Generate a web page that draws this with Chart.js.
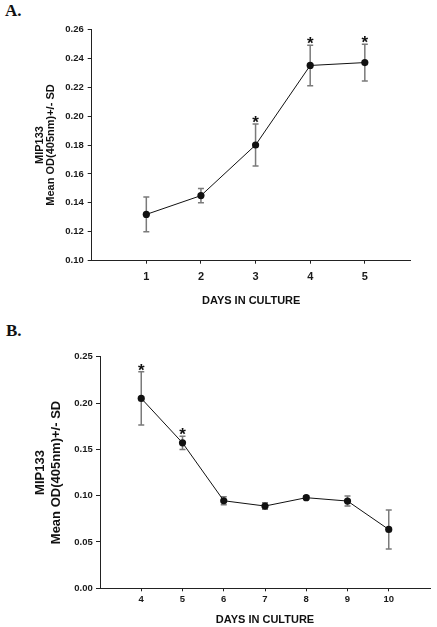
<!DOCTYPE html>
<html>
<head>
<meta charset="utf-8">
<script src="https://cdn.jsdelivr.net/npm/chart.js@4.4.1/dist/chart.umd.min.js"></script>
<style>
  html, body { margin: 0; padding: 0; background: #fff; width: 437px; height: 627px; overflow: hidden; }
  .panel { position: absolute; left: 0; }
  .lbl { position: absolute; font-family: "Liberation Serif", "Times New Roman", serif; font-weight: bold; font-size: 17px; color: #111; }
</style>
</head>
<body>
<div class="lbl" style="left:5px; top:1px;">A.</div>
<div class="lbl" style="left:6px; top:321px;">B.</div>
<canvas id="cA" class="panel" style="top:0px;" width="437" height="310"></canvas>
<canvas id="cB" class="panel" style="top:310px;" width="437" height="317"></canvas>
<script>
// ---- Data: panel A ----
const daysA = [1, 2, 3, 4, 5];
const meanA = [0.132, 0.145, 0.180, 0.235, 0.237];
const sdA   = [0.012, 0.005, 0.0145, 0.014, 0.0127];
const sigA  = [false, false, true, true, true];
const xTicksA = [1, 2, 3, 4, 5];
const yTicksA = [0.10, 0.12, 0.14, 0.16, 0.18, 0.20, 0.22, 0.24, 0.26];

// ---- Data: panel B ----
const daysB = [4, 5, 6, 7, 8, 9, 10];
const meanB = [0.205, 0.157, 0.0945, 0.0888, 0.0978, 0.0942, 0.0635];
const sdB   = [0.0288, 0.0072, 0.0042, 0.0035, 0.002, 0.0053, 0.021];
const sigB  = [true, true, false, false, false, false, false];
const xTicksB = [4, 5, 6, 7, 8, 9, 10];
const yTicksB = [0.00, 0.05, 0.10, 0.15, 0.20, 0.25];

const yTitle = ['MIP133', 'Mean OD(405nm)+/- SD'];
const xTitle = 'DAYS IN CULTURE';

const errorBarPlugin = {
  id: 'errorBars',
  beforeDatasetsDraw(chart, args, opts) {
    const ctx = chart.ctx;
    const xs = chart.scales.x, ys = chart.scales.y;
    const ds = chart.data.datasets[0];
    ctx.save();
    ctx.strokeStyle = '#7a7a7a';
    ctx.lineWidth = 1.5;
    ds.data.forEach((p, i) => {
      const sd = ds.sd[i];
      const x = xs.getPixelForValue(p.x);
      const yt = ys.getPixelForValue(p.y + sd);
      const yb = ys.getPixelForValue(p.y - sd);
      ctx.beginPath();
      ctx.moveTo(x, yt); ctx.lineTo(x, yb);
      ctx.moveTo(x - 3, yt); ctx.lineTo(x + 3, yt);
      ctx.moveTo(x - 3, yb); ctx.lineTo(x + 3, yb);
      ctx.stroke();
    });
    ctx.restore();
  },
  afterDatasetsDraw(chart) {
    const ctx = chart.ctx;
    const xs = chart.scales.x, ys = chart.scales.y;
    const ds = chart.data.datasets[0];
    ctx.save();
    ctx.fillStyle = '#111';
    ctx.font = 'bold 17px "Liberation Sans", Arial, sans-serif';
    ctx.textAlign = 'center';
    ctx.textBaseline = 'alphabetic';
    ds.data.forEach((p, i) => {
      if (!ds.sig[i]) return;
      const x = xs.getPixelForValue(p.x);
      const yt = ys.getPixelForValue(p.y + ds.sd[i]);
      ctx.fillText('*', x, yt + 4);
    });
    ctx.restore();
  }
};

function makeChart(id, cfg) {
  const data = cfg.days.map((d, i) => ({ x: d, y: cfg.mean[i] }));
  return new Chart(document.getElementById(id), {
    type: 'scatter',
    data: {
      datasets: [{
        data: data,
        sd: cfg.sd,
        sig: cfg.sig,
        showLine: true,
        borderColor: '#111',
        borderWidth: 1,
        backgroundColor: '#111',
        pointRadius: 3.6,
        pointHoverRadius: 3.6,
        pointBorderWidth: 0,
        tension: 0
      }]
    },
    options: {
      responsive: false,
      animation: false,
      devicePixelRatio: 1,
      events: [],
      layout: { padding: cfg.padding },
      plugins: { legend: { display: false }, tooltip: { enabled: false } },
      scales: {
        x: {
          type: 'linear',
          min: cfg.xMin, max: cfg.xMax,
          afterBuildTicks: s => { s.ticks = cfg.xTicks.map(v => ({ value: v })); },
          afterFit: s => { s.height = cfg.xAxisH; },
          border: { display: true, color: '#222', width: 1 },
          grid: { drawOnChartArea: false, drawTicks: true, tickLength: 3, color: '#222' },
          ticks: {
            color: '#1a1a1a', padding: cfg.xTickPad, maxRotation: 0, autoSkip: false,
            font: { family: '"Liberation Sans", Arial, sans-serif', size: cfg.xTickSize, weight: 'bold' },
            callback: v => String(v)
          },
          title: {
            display: true, text: xTitle, color: '#111',
            font: { family: '"Liberation Sans", Arial, sans-serif', size: 11, weight: 'bold' },
            padding: { top: 0, bottom: cfg.xTitlePad }
          }
        },
        y: {
          type: 'linear',
          min: cfg.yMin, max: cfg.yMax,
          afterBuildTicks: s => { s.ticks = cfg.yTicks.map(v => ({ value: v })); },
          afterFit: s => { s.width = cfg.yAxisW; },
          border: { display: true, color: '#222', width: 1 },
          grid: { drawOnChartArea: false, drawTicks: true, tickLength: 4, color: '#222' },
          ticks: {
            color: '#1a1a1a', padding: cfg.yTickPad, autoSkip: false,
            font: { family: '"Liberation Sans", Arial, sans-serif', size: 9.5, weight: 'bold' },
            callback: v => Number(v).toFixed(2)
          },
          title: {
            display: true, text: yTitle, color: '#111',
            font: { family: '"Liberation Sans", Arial, sans-serif', size: cfg.yTitleSize, weight: 'bold', lineHeight: cfg.yTitleLH },
            padding: { top: cfg.yTitlePad, bottom: 0 }
          }
        }
      }
    },
    plugins: [errorBarPlugin]
  });
}

makeChart('cA', {
  days: daysA, mean: meanA, sd: sdA, sig: sigA,
  xTicks: xTicksA, yTicks: yTicksA,
  xMin: 0, xMax: 5.84, yMin: 0.10, yMax: 0.26,
  padding: { top: 29.3, right: 26.3, bottom: 0, left: 0 },
  yAxisW: 91.7, xAxisH: 49.3,
  xTickPad: 6.4, xTickSize: 11, xTitlePad: 2.4,
  yTickPad: 4, yTitleSize: 11, yTitleLH: 1.05, yTitlePad: 33.8
});

makeChart('cB', {
  days: daysB, mean: meanB, sd: sdB, sig: sigB,
  xTicks: xTicksB, yTicks: yTicksB,
  xMin: 3, xMax: 11, yMin: 0, yMax: 0.25,
  padding: { top: 46.7, right: 7, bottom: 0, left: 0 },
  yAxisW: 100, xAxisH: 38.7,
  xTickPad: 2.3, xTickSize: 9.5, xTitlePad: 0,
  yTickPad: 3.2, yTitleSize: 13, yTitleLH: 1.23, yTitlePad: 32
});
</script>
</body>
</html>
